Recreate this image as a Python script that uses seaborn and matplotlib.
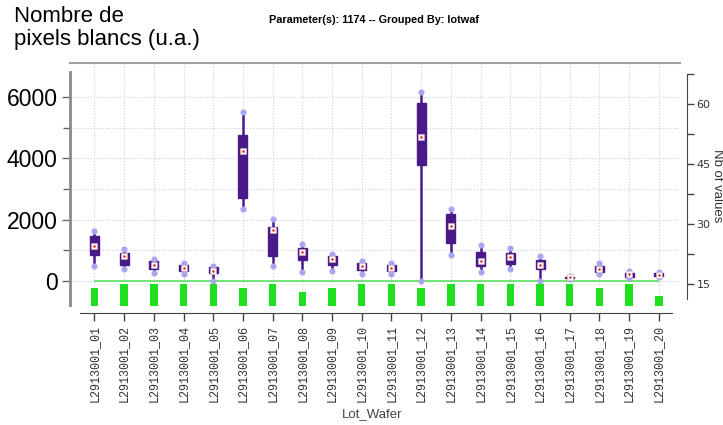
import numpy as np
import pandas as pd
import matplotlib
matplotlib.use("Agg")
import matplotlib.pyplot as plt
import seaborn as sns
from matplotlib.ticker import FixedLocator

wafers = [
    "L2913001_01", "L2913001_02", "L2913001_03", "L2913001_04", "L2913001_05",
    "L2913001_06", "L2913001_07", "L2913001_08", "L2913001_09", "L2913001_10",
    "L2913001_11", "L2913001_12", "L2913001_13", "L2913001_14", "L2913001_15",
    "L2913001_16", "L2913001_17", "L2913001_18", "L2913001_19", "L2913001_20",
]
# five-number summaries
mins = [490, 380, 250, 230, 10, 2350, 490, 300, 340, 230,
        220, 0, 850, 300, 380, 10, 50, 230, 90, 140]
q1s = [850, 520, 390, 340, 270, 2720, 820, 690, 520, 360,
       340, 3780, 1230, 490, 540, 390, 100, 300, 140, 160]
meds = [1140, 830, 520, 440, 340, 4240, 1660, 940, 720, 490,
        440, 4710, 1780, 650, 770, 520, 120, 390, 220, 210]
q3s = [1470, 920, 660, 520, 470, 4760, 1770, 1070, 820, 600,
       530, 5790, 2170, 960, 920, 690, 140, 500, 270, 250]
maxs = [1640, 1030, 720, 600, 500, 5500, 2010, 1210, 880, 660,
        600, 6170, 2340, 1170, 1070, 820, 170, 600, 340, 300]
# number of values per wafer (right axis)
counts = [14, 15, 15, 15, 15, 14, 15, 13, 14, 15,
          15, 14, 15, 15, 15, 15, 15, 14, 15, 12]

purple = "#4a1a8a"
lavender = "#aaa5f0"
green = "#1ee01e"

df = pd.DataFrame({
    "Lot_Wafer": np.repeat(wafers, 5),
    "value": np.column_stack([mins, q1s, meds, q3s, maxs]).ravel(),
})

fig = plt.figure(figsize=(7.23, 4.25), dpi=100)
ax = fig.add_axes([70 / 723, 1 - 305.7 / 425, 610 / 723, 242.7 / 425])

sns.boxplot(data=df, x="Lot_Wafer", y="value", order=wafers, ax=ax,
            whis=(0, 100), width=0.3, color=purple, saturation=1,
            linecolor=purple, linewidth=1, showcaps=False, fliersize=0,
            whiskerprops=dict(linewidth=1.8, color=purple),
            medianprops=dict(color=purple, linewidth=0))
sns.stripplot(x=wafers, y=mins, order=wafers, jitter=False, color=lavender,
              size=4.4, linewidth=0, ax=ax, zorder=4)
sns.stripplot(x=wafers, y=maxs, order=wafers, jitter=False, color=lavender,
              size=4.4, linewidth=0, ax=ax, zorder=4)
sns.stripplot(x=wafers, y=meds, order=wafers, jitter=False, color="white",
              marker="s", size=4, linewidth=0.4, edgecolor="#d8b0b0", ax=ax, zorder=5)
sns.stripplot(x=wafers, y=meds, order=wafers, jitter=False, color="#e0201c",
              size=1.8, linewidth=0, ax=ax, zorder=6)
ax.hlines(0, 0, len(wafers) - 1, color="#5ede5e", linewidth=1.2, zorder=3)

ax2 = ax.twinx()
sns.barplot(x=wafers, y=counts, order=wafers, ax=ax2, color=green,
            saturation=1, width=0.25)

ax.set_xlim(-0.82, 19.71)
ax.set_ylim(-805, 7107)
ax2.set_ylim(9.65, 70.3)

# grid
ax.set_axisbelow(True)
ax.yaxis.set_major_locator(FixedLocator([0, 2000, 4000, 6000]))
ax.yaxis.set_minor_locator(FixedLocator([1000, 3000, 5000]))
ax.grid(True, which="both", axis="both", linestyle=":", color="#c8d3dc", linewidth=0.8)
ax2.grid(False)

# left axis
ax.set_ylabel("")
ax.set_xlabel("")
ax.tick_params(axis="y", which="major", length=6, width=1, color="#666666",
               labelsize=16.5, pad=3, labelcolor="black")
ax.tick_params(axis="y", which="minor", length=5, width=1, color="#666666")
for lab in ax.get_yticklabels():
    lab.set_fontfamily("Liberation Sans")
ax.spines["left"].set_color("#8a8a8a")
ax.spines["left"].set_linewidth(2)
ax.spines["left"].set_bounds(-780, 6820)
ax.spines["top"].set_color("#a0a0a0")
ax.spines["top"].set_linewidth(1.5)
ax.spines["right"].set_visible(False)
ax.spines["bottom"].set_position(("outward", 5))
ax.spines["bottom"].set_color("#444444")
ax.spines["bottom"].set_bounds(-0.47, 19.45)

# bottom axis
ax.tick_params(axis="x", length=6, width=1, color="#444444", pad=3,
               labelsize=8.5, labelcolor="#333333")
for lab in ax.get_xticklabels():
    lab.set_rotation(90)
    lab.set_fontfamily("Liberation Mono")

# right axis
for s in ["top", "left", "bottom"]:
    ax2.spines[s].set_visible(False)
ax2.spines["right"].set_position(("outward", 5))
ax2.spines["right"].set_color("#444444")
ax2.spines["right"].set_bounds(11.3, 67.5)
ax2.yaxis.set_major_locator(FixedLocator([15, 30, 45, 60]))
ax2.yaxis.set_minor_locator(FixedLocator([22.5, 37.5, 52.5, 67.5]))
ax2.tick_params(axis="y", which="major", length=5, width=1, color="#444444",
                labelsize=8, labelcolor="#333333", pad=2)
ax2.tick_params(axis="y", which="minor", length=5, width=1, color="#444444")
ax2.set_ylabel("")

fig.text(717 / 723, 1 - 186 / 425, "Nb of values", rotation=270, ha="center",
         va="center", fontsize=9.5, color="#333333", family="Liberation Sans")
fig.text(374 / 723, 1 - 20 / 425, "Parameter(s): 1174 -- Grouped By: lotwaf",
         ha="center", va="center", fontsize=7.8, fontweight="bold",
         family="Liberation Sans")
fig.text(14 / 723, 1 - 6 / 425, "Nombre de\npixels blancs (u.a.)", ha="left",
         va="top", fontsize=16, linespacing=1.15, family="Liberation Sans")
fig.text(372 / 723, 1 - 414 / 425, "Lot_Wafer", ha="center", va="center",
         fontsize=9.5, color="#444444", family="Liberation Sans")

fig.savefig("out.png", dpi=100)
